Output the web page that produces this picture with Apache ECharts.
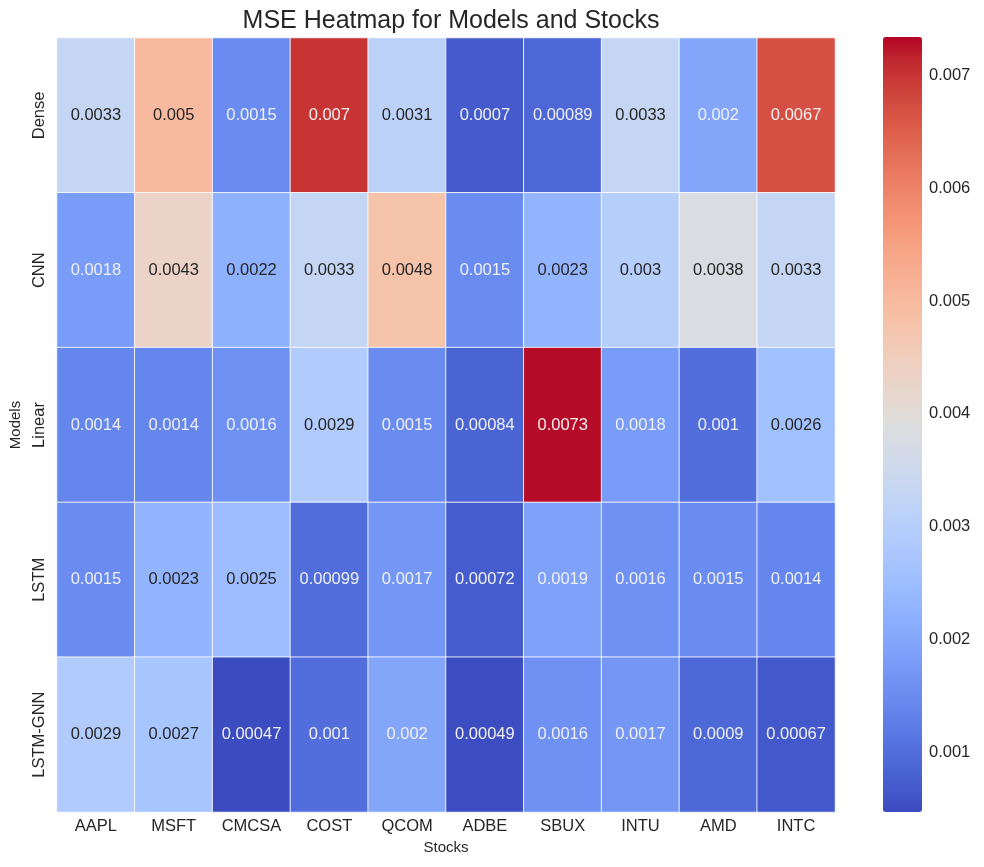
<!DOCTYPE html>
<html><head><meta charset="utf-8">
<script src="https://cdn.jsdelivr.net/npm/echarts@6/dist/echarts.min.js"></script>
<style>html,body{margin:0;padding:0;background:#fff}#c{width:984px;height:867px}</style>
</head><body><div id="c"></div>
<script>
const stocks = ['AAPL','MSFT','CMCSA','COST','QCOM','ADBE','SBUX','INTU','AMD','INTC'];
const models = ['Dense','CNN','Linear','LSTM','LSTM-GNN'];
const dense   = [0.0033,0.005,0.0015,0.007,0.0031,0.0007,0.00089,0.0033,0.002,0.0067];
const cnn     = [0.0018,0.0043,0.0022,0.0033,0.0048,0.0015,0.0023,0.003,0.0038,0.0033];
const linear  = [0.0014,0.0014,0.0016,0.0029,0.0015,0.00084,0.0073,0.0018,0.001,0.0026];
const lstm    = [0.0015,0.0023,0.0025,0.00099,0.0017,0.00072,0.0019,0.0016,0.0015,0.0014];
const lstmGnn = [0.0029,0.0027,0.00047,0.001,0.002,0.00049,0.0016,0.0017,0.0009,0.00067];
const colorTicks = [0.001,0.002,0.003,0.004,0.005,0.006,0.007];
const vMin = 0.00047, vMax = 0.00734;

const rows = [dense,cnn,linear,lstm,lstmGnn];
const coolwarm = [[59,76,192],[68,90,204],[77,104,215],[87,117,225],[98,130,234],[108,142,241],[119,154,247],[130,165,251],[141,176,254],[152,185,255],[163,194,255],[174,201,253],[184,208,249],[194,213,244],[204,217,238],[213,219,230],[221,221,221],[229,216,209],[236,211,197],[241,204,184],[245,196,172],[247,187,160],[247,177,148],[247,166,137],[244,154,123],[241,141,111],[236,127,99],[229,112,88],[222,96,77],[213,80,66],[203,62,56],[192,40,47],[180,4,38]].map(c=>'rgb('+c.join(',')+')');

const data = [];
rows.forEach((r,yi)=>r.forEach((v,xi)=>{
  const dark = v >= 0.0021 && v <= 0.0056;
  data.push({value:[xi,yi,v],label:{color: dark ? '#262626' : '#f0f0f0'}});
}));

const font = 'Liberation Sans, Arial, sans-serif';
const chart = echarts.init(document.getElementById('c'));
chart.setOption({
  animation:false,
  backgroundColor:'#fff',
  title:{text:'MSE Heatmap for Models and Stocks',left:446,top:4,textAlign:'center',
    textStyle:{fontFamily:font,fontSize:25,fontWeight:'normal',color:'#262626'}},
  grid:[{left:57,right:149,top:38,bottom:55},
        {left:883,width:39,top:37,bottom:55}],
  xAxis:[{type:'category',data:stocks,gridIndex:0,name:'Stocks',nameLocation:'middle',nameGap:26,
    nameTextStyle:{fontFamily:font,fontSize:15,color:'#262626'},
    axisLine:{show:false},axisTick:{show:false},splitLine:{show:false},
    axisLabel:{fontFamily:font,fontSize:16.5,color:'#262626',margin:6}},
    {type:'value',gridIndex:1,show:false}],
  yAxis:[{type:'category',data:models,inverse:true,gridIndex:0,name:'Models',nameLocation:'middle',nameGap:31,
    nameRotate:90,nameTextStyle:{fontFamily:font,fontSize:15,color:'#262626'},
    axisLine:{show:false},axisTick:{show:false},splitLine:{show:false},
    axisLabel:{fontFamily:font,fontSize:16.5,color:'#262626',rotate:90,margin:9,align:'center',verticalAlign:'bottom'}},
    {type:'value',gridIndex:1,position:'right',min:vMin,max:vMax,
    axisLine:{show:false},axisTick:{show:false},splitLine:{show:false},
    axisLabel:{fontFamily:font,fontSize:16.5,color:'#262626',margin:7,customValues:colorTicks,
      formatter:v=>String(+v.toFixed(4))}}],
  visualMap:{type:'continuous',seriesIndex:0,min:vMin,max:vMax,calculable:false,show:true,
    orient:'vertical',left:883,top:37,itemWidth:39,itemHeight:775,padding:0,text:null,showLabel:false,
    inRange:{color:coolwarm}},
  series:[{type:'heatmap',xAxisIndex:0,yAxisIndex:0,data:data,
    itemStyle:{borderColor:'rgba(255,255,255,0.85)',borderWidth:1},
    label:{show:true,fontFamily:font,fontSize:16.5,formatter:p=>String(p.value[2])},
    emphasis:{disabled:true}}]
});
</script></body></html>
